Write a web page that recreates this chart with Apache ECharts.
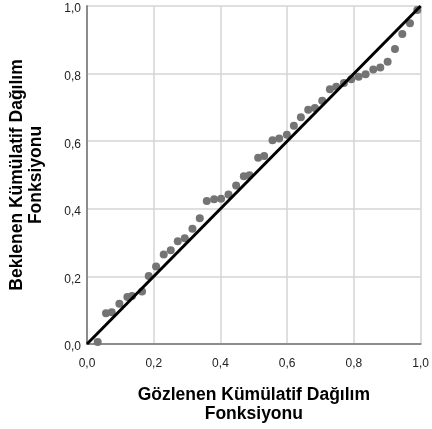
<!DOCTYPE html>
<html>
<head>
<meta charset="utf-8">
<script src="https://cdn.jsdelivr.net/npm/echarts@6/dist/echarts.min.js"></script>
<style>
html,body{margin:0;padding:0;background:#fff;}
#chart{width:432px;height:429px;}
</style>
</head>
<body>
<div id="chart"></div>
<script>
// Observed cumulative probability (x)
var observed = [0.032,0.057,0.074,0.097,0.121,0.135,0.165,0.185,0.207,0.230,
  0.251,0.272,0.293,0.316,0.338,0.359,0.381,0.402,0.424,0.447,
  0.470,0.487,0.513,0.531,0.556,0.576,0.599,0.620,0.641,0.663,
  0.683,0.705,0.728,0.747,0.770,0.792,0.814,0.835,0.858,0.879,
  0.901,0.923,0.945,0.968,0.990];
// Expected cumulative probability (y)
var expected = [0.006,0.091,0.094,0.119,0.139,0.142,0.155,0.201,0.229,0.265,
  0.277,0.304,0.313,0.341,0.372,0.423,0.428,0.430,0.442,0.469,
  0.496,0.499,0.551,0.556,0.603,0.608,0.619,0.646,0.671,0.693,
  0.698,0.720,0.754,0.761,0.772,0.783,0.791,0.798,0.812,0.818,
  0.835,0.873,0.917,0.949,0.988];
var refLineX = [0, 1];
var refLineY = [0, 1];
var tickValues = [0, 0.2, 0.4, 0.6, 0.8, 1.0];
var xTitle = 'Gözlenen Kümülatif Dağılım\nFonksiyonu';
var yTitle = 'Beklenen Kümülatif Dağılım\nFonksiyonu';

function fmt(v){ return v.toFixed(1).replace('.', ','); }
function fmtY(v){ return '{v|' + fmt(v) + '}'; }

var points = observed.map(function(x, i){ return [x, expected[i]]; });
var line = refLineX.map(function(x, i){ return [x, refLineY[i]]; });

var FONT = 'Liberation Sans, Arial, sans-serif';
var chart = echarts.init(document.getElementById('chart'));
chart.setOption({
  animation: false,
  backgroundColor: '#ffffff',
  grid: {left: 87, right: 5, top: 6, bottom: 84, containLabel: false},
  xAxis: {
    type: 'value', min: 0, max: 1, interval: 0.2,
    name: xTitle, nameLocation: 'middle', nameGap: 42,
    nameTextStyle: {fontFamily: FONT, fontSize: 17.5, fontWeight: 'bold', color: '#000', lineHeight: 19},
    axisLine: {show: true, lineStyle: {color: '#8c8c8c', width: 2}},
    axisTick: {show: false},
    splitLine: {show: true, lineStyle: {color: '#d4d4d4', width: 1.5}},
    axisLabel: {formatter: fmt, fontFamily: FONT, fontSize: 12, color: '#222', margin: 14}
  },
  yAxis: {
    type: 'value', min: 0, max: 1, interval: 0.2,
    name: yTitle, nameLocation: 'middle', nameGap: 41, nameRotate: 90,
    nameTextStyle: {fontFamily: FONT, fontSize: 17.5, fontWeight: 'bold', color: '#000', lineHeight: 19},
    axisLine: {show: true, lineStyle: {color: '#8c8c8c', width: 2}},
    axisTick: {show: false},
    splitLine: {show: true, lineStyle: {color: '#d4d4d4', width: 1.5}},
    axisLabel: {formatter: fmtY, fontFamily: FONT, fontSize: 12, color: '#222', margin: 6,
      rich: {v: {fontFamily: FONT, fontSize: 12, color: '#222', padding: [6, 0, 0, 0]}}}
  },
  series: [
    {
      type: 'scatter', data: points, symbol: 'circle', symbolSize: 8,
      itemStyle: {color: '#747474', opacity: 1}, z: 2
    },
    {
      type: 'line', data: line, symbol: 'none',
      lineStyle: {color: '#000', width: 3}, z: 3
    }
  ]
});
</script>
</body>
</html>
